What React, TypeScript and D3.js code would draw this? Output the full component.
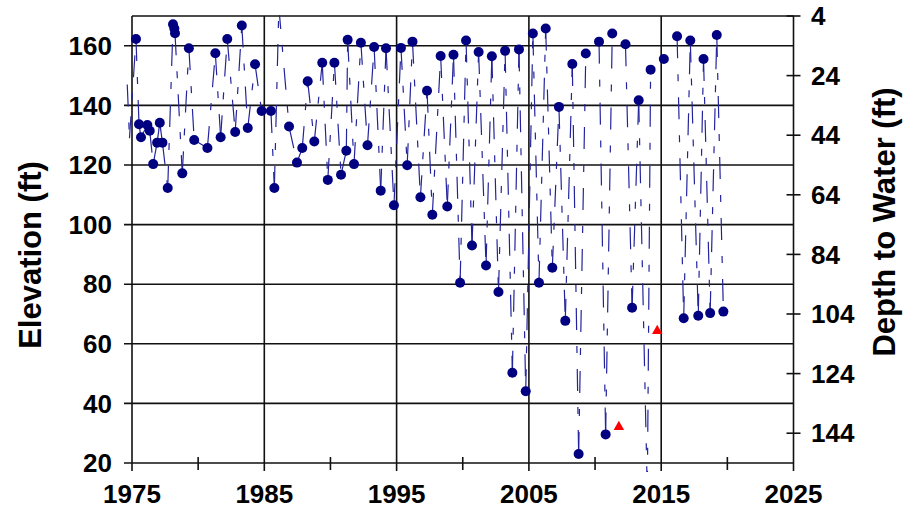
import React from "react";
import * as d3 from "d3";

// ---- Data ----
const years: number[] = [
  1974.64, 1974.81, 1975.3, 1975.53, 1975.68, 1976.16, 1976.34, 1976.6, 1976.9, 1977.1,
  1977.3, 1977.7, 1978.1, 1978.2, 1978.25, 1978.8, 1979.3, 1979.7, 1980.7, 1981.3,
  1981.7, 1982.2, 1982.8, 1983.3, 1983.75, 1984.3, 1984.8, 1985.5, 1985.76, 1986.1,
  1986.87, 1987.47, 1987.87, 1988.28, 1988.78, 1989.38, 1989.8, 1990.3, 1990.8, 1991.2,
  1991.3, 1991.78, 1992.3, 1992.8, 1993.3, 1993.8, 1994.2, 1994.8, 1995.33, 1995.8,
  1996.2, 1996.8, 1997.3, 1997.7, 1998.33, 1998.83, 1999.3, 1999.8, 2000.25, 2000.7,
  2001.2, 2001.76, 2002.2, 2002.7, 2003.2, 2003.75, 2004.25, 2004.76, 2005.3, 2005.76,
  2006.27, 2006.77, 2007.27, 2007.75, 2008.28, 2008.76, 2009.3, 2009.8, 2010.3, 2010.8,
  2011.3, 2011.8, 2012.3, 2012.8, 2013.3, 2013.95, 2014.2, 2014.7, 2015.2, 2015.7,
  2016.2, 2016.7, 2017.2, 2017.8, 2018.2, 2018.7, 2019.2, 2019.7,
];
const elevations: (number | null)[] = [
  147, 129, 162.3, 133.7, 129.3, 133.4, 131.5, 120.3, 127.5, 134.2,
  127.5, 112.3, 167.2, 165.8, 164.2, 117.2, 159.2, 128.4, 125.7, 157.5,
  129.3, 162.3, 131.1, 166.8, 132.4, 153.8, 138.1, 138.1, 112.3, 173,
  132.9, 120.8, 125.7, 148.1, 127.9, 154.3, 115, 154.3, 116.7, 124.8,
  162, 120.3, 161, 126.6, 159.6, 111.4, 159.2, 106.5, 159.3, 119.9,
  161.4, 109.2, 144.9, 103.3, 156.6, 106.1, 157, 80.5, 161.8, 93,
  157.9, 86.3, 156.5, 77.4, 158.3, 50.3, 158.8, 44.1, 164.1, 80.5,
  165.8, 85.5, 139.5, 67.7, 153.9, 23, 157.4, null, 161.4, 29.6,
  164.1, null, 160.5, 72.1, 141.7, 10, 152, null, 155.6, null,
  163.2, 68.6, 161.8, 69.4, 155.6, 70.3, 163.6, 70.8,
];
const otherYears: number[] = [2011.8, 2014.7];
const otherElevations: number[] = [31.8, 64];

const xTicks: number[] = [1975, 1985, 1995, 2005, 2015, 2025];
const xMinorTicks: number[] = [1980, 1990, 2000, 2010, 2020];
const yTicks: number[] = [20, 40, 60, 80, 100, 120, 140, 160];
const depthTicks: number[] = [4, 24, 44, 64, 84, 104, 124, 144];

// ---- Layout ----
const W = 917;
const H = 513;
const L = 132;
const R = 793.5;
const T = 16;
const B = 463;

const FONT = "'Liberation Sans', Arial, sans-serif";

export default function App() {
  const x = d3.scaleLinear().domain([1975, 2025]).range([L, R]);
  const y = d3.scaleLinear().domain([20, 170]).range([B, T]);
  const yd = d3.scaleLinear().domain([154, 4]).range([B, T]);

  const pts = years.map((yr, i) => ({ yr, v: elevations[i] }));
  const segs: { x1: number; y1: number; x2: number; y2: number }[] = [];
  for (let i = 0; i < pts.length - 1; i++) {
    const a = pts[i];
    const b = pts[i + 1];
    if (a.v == null || b.v == null) continue;
    segs.push({ x1: x(a.yr), y1: y(a.v), x2: x(b.yr), y2: y(b.v) });
  }
  const markers = pts.filter(
    (p) => p.v != null && p.v >= 20 && p.v <= 170 && p.yr >= 1975 && p.yr <= 2025
  );
  const tri = d3.symbol().type(d3.symbolTriangle).size(48)();

  const grid = "#111";
  return (
    <svg
      width={W}
      height={H}
      style={{ position: "absolute", left: 0, top: 0, background: "#fff" }}
      fontFamily={FONT}
    >
      <defs>
        <clipPath id="plotclip">
          <rect x={118} y={T - 1} width={R - 118} height={472 - T + 1} />
        </clipPath>
      </defs>

      {/* horizontal gridlines + left ticks */}
      {yTicks.map((t) => (
        <line key={"h" + t} x1={L - 8} x2={R} y1={y(t)} y2={y(t)} stroke={grid} strokeWidth={1.6} />
      ))}
      {/* top border */}
      <line x1={L} x2={R} y1={T} y2={T} stroke={grid} strokeWidth={1.6} />
      {/* vertical gridlines + major ticks */}
      {xTicks.map((t) => (
        <line key={"v" + t} x1={x(t)} x2={x(t)} y1={T} y2={B + 8} stroke={grid} strokeWidth={1.6} />
      ))}
      {xMinorTicks.map((t) => (
        <line key={"m" + t} x1={x(t)} x2={x(t)} y1={B - 6} y2={B + 7} stroke={grid} strokeWidth={1.6} />
      ))}
      {/* right axis ticks */}
      {depthTicks.map((t) => (
        <line key={"d" + t} x1={R - 7} x2={R + 7} y1={yd(t)} y2={yd(t)} stroke={grid} strokeWidth={1.6} />
      ))}

      {/* dashed connecting line */}
      <g clipPath="url(#plotclip)">
        {segs.map((s, i) => (
          <line
            key={"s" + i}
            x1={s.x1}
            y1={s.y1}
            x2={s.x2}
            y2={s.y2}
            stroke="#23239c"
            strokeWidth={1.2}
            strokeDasharray="22,16,7,16"
          />
        ))}
      </g>

      {/* markers */}
      {markers.map((p, i) => (
        <circle key={"c" + i} cx={x(p.yr)} cy={y(p.v as number)} r={5} fill="#000080" />
      ))}
      {otherYears.map((yr, i) => (
        <path
          key={"t" + i}
          d={tri as string}
          transform={`translate(${x(yr)},${y(otherElevations[i]) - 1})`}
          fill="#ff0000"
        />
      ))}

      {/* tick labels */}
      {yTicks.map((t) => (
        <text key={"yl" + t} x={112} y={y(t)} dy="0.35em" textAnchor="end" fontSize={26} fontWeight="bold">
          {t}
        </text>
      ))}
      {xTicks.map((t) => (
        <text key={"xl" + t} x={x(t)} y={503} textAnchor="middle" fontSize={26} fontWeight="bold">
          {t}
        </text>
      ))}
      {depthTicks.map((t) => (
        <text key={"dl" + t} x={811} y={yd(t)} dy="0.35em" textAnchor="start" fontSize={26} fontWeight="bold">
          {t}
        </text>
      ))}

      {/* axis titles */}
      <text
        transform={`translate(41,255) rotate(-90)`}
        textAnchor="middle"
        fontSize={31}
        fontWeight="bold"
      >
        Elevation (ft)
      </text>
      <text
        transform={`translate(895,222) rotate(-90)`}
        textAnchor="middle"
        fontSize={31}
        fontWeight="bold"
      >
        Depth to Water (ft)
      </text>
    </svg>
  );
}
